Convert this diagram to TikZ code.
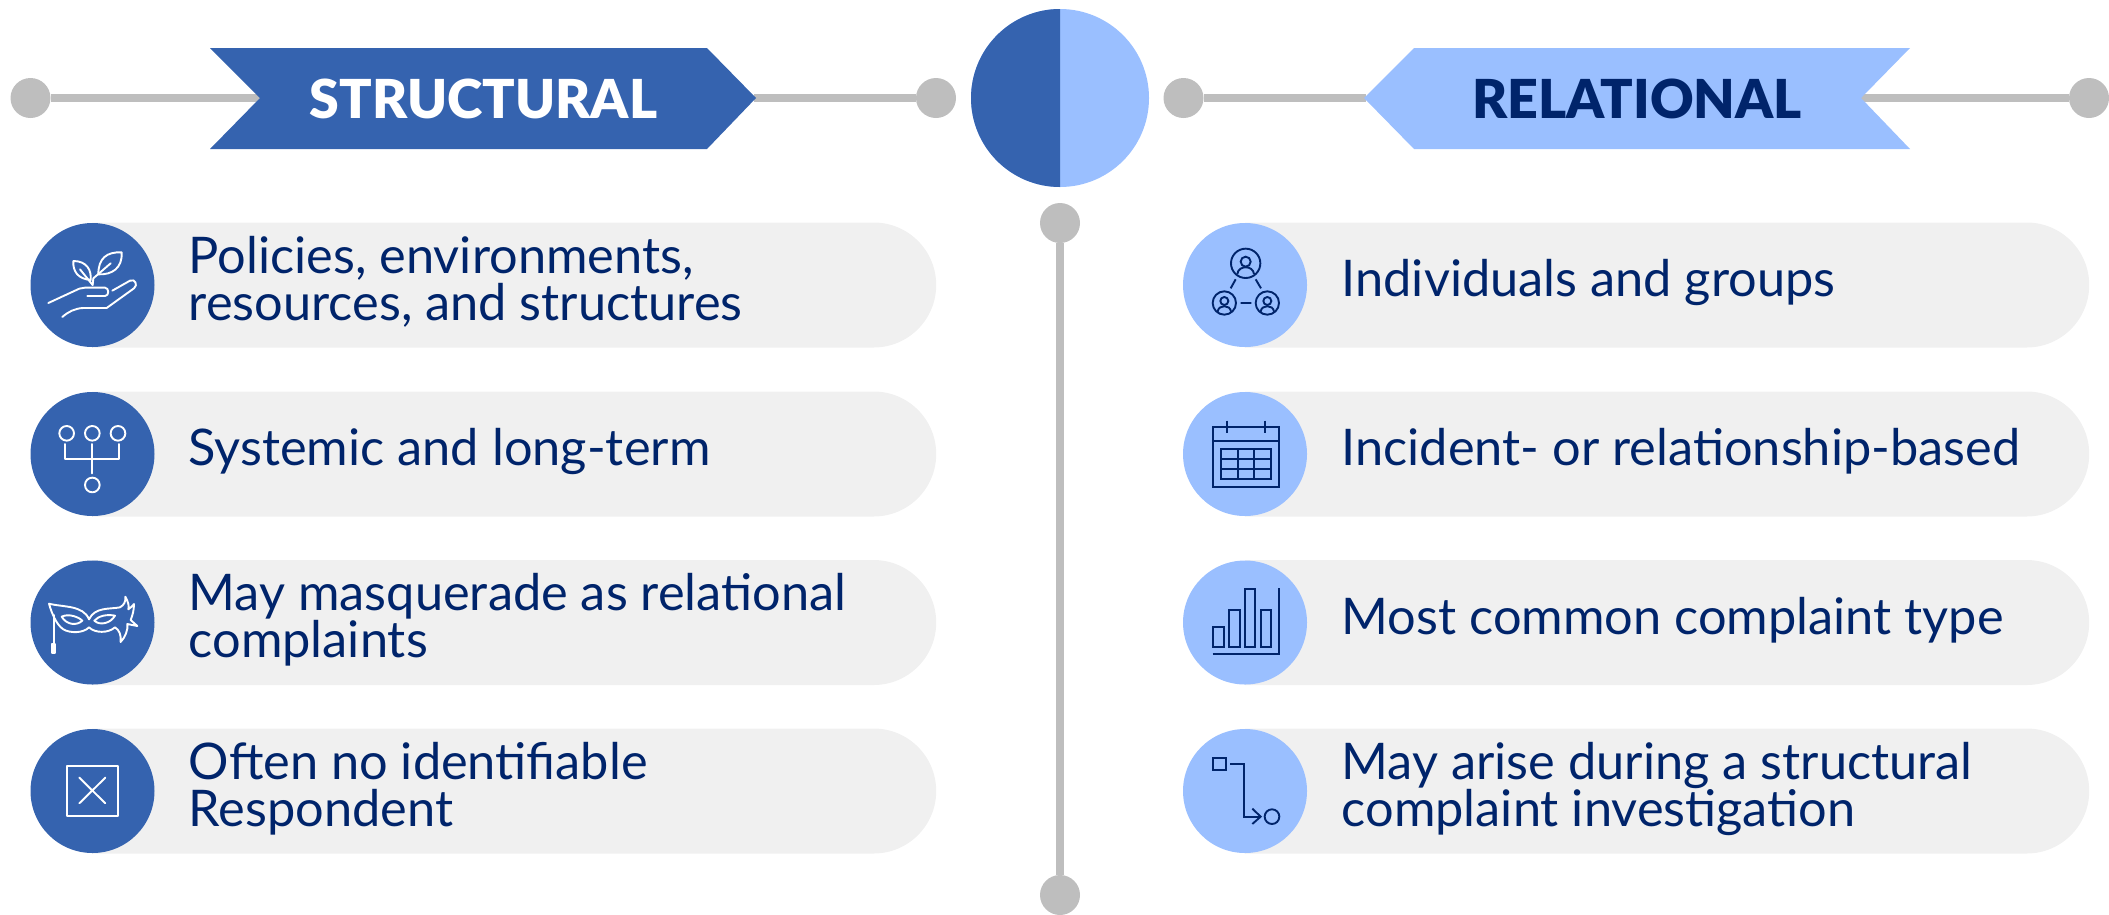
\documentclass[tikz,border=0pt]{standalone}
\usepackage{fontspec}
\usetikzlibrary{shapes.misc}
\setmainfont{Lato}
\newfontfamily\headfont{Lato Black}
\definecolor{bluedark}{HTML}{3563AF}
\definecolor{bluelight}{HTML}{9ABFFF}
\definecolor{navy}{HTML}{00246B}
\definecolor{railgrey}{HTML}{BEBEBE}
\definecolor{pillgrey}{HTML}{F0F0F0}
\tikzset{
  raildot/.style={circle,fill=railgrey,inner sep=0pt,minimum size=40pt},
  rail/.style={draw=railgrey,line width=8pt},
  pill/.style={rounded rectangle,rounded rectangle left arc=none,fill=pillgrey,inner sep=0pt,minimum height=125pt,anchor=west},
  lefticon/.style={circle,fill=bluedark,inner sep=0pt,minimum size=124pt},
  righticon/.style={circle,fill=bluelight,inner sep=0pt,minimum size=124pt},
  txt/.style={anchor=base west,inner sep=0pt,text=navy,align=left,font=\fontsize{50.5}{47}\selectfont},
  headtxt/.style={inner sep=0pt,anchor=base,font=\headfont\fontsize{53.7}{54}\selectfont},
  iconwhite/.style={draw=white,line width=1.9pt,line join=round,line cap=round},
  icondark/.style={draw=navy,line width=1.9pt,line join=miter},
}
\begin{document}
\begin{tikzpicture}[x=1pt,y=-1pt]
\useasboundingbox (0,0) rectangle (2109,914);
% rails
\node[raildot] (dl1) at (30.5,98) {};
\node[raildot] (dl2) at (936,98) {};
\node[raildot] (dr1) at (1183.5,98) {};
\node[raildot] (dr2) at (2089,98) {};
\node[raildot] (dv1) at (1060,223) {};
\node[raildot] (dv2) at (1060,895) {};
\coordinate (nl1) at (262,98);
\coordinate (nl2) at (754,98);
\coordinate (nr1) at (1366,98);
\coordinate (nr2) at (1861,98);
\draw[rail] (dl1) -- (nl1);
\draw[rail] (nl2) -- (dl2);
\draw[rail] (dr1) -- (nr1);
\draw[rail] (nr2) -- (dr2);
\draw[rail] (dv1) -- (dv2);
% banners
\fill[bluedark] (210,48) -- (707,48) -- (756,98) -- (707,149) -- (210,149) -- (260,98) -- cycle;
\fill[bluelight] (1414,48) -- (1910,48) -- (1861,98) -- (1910,149) -- (1414,149) -- (1364,98) -- cycle;
\node[headtxt,text=white] (hs) at (483.5,118) {STRUCTURAL};
\node[headtxt,text=navy] (hr) at (1637,118) {RELATIONAL};
% centre circle
\node[circle,fill=bluelight,inner sep=0pt,minimum size=178pt] (big) at (1060,98) {};
\begin{scope}
\clip (960,0) rectangle (1060,200);
\fill[bluedark] (1060,98) circle[radius=89];
\end{scope}
% pills
\foreach \n/\c in {1/285,2/454,3/622.5,4/791}{
  \node[pill,minimum width=844pt] (pl\n) at (92,\c) {};
  \node[pill,minimum width=844pt] (pr\n) at (1245,\c) {};
  \node[lefticon] (il\n) at (92.5,\c) {};
  \node[righticon] (ir\n) at (1245,\c) {};
}
% text
\node[txt] (t1) at (188.5,320) {Policies, environments,\\resources, and structures};
\node[txt] (t2) at (188.5,465.5) {Systemic and long-term};
\node[txt] (t3) at (188.5,657.5) {May masquerade as relational\\complaints};
\node[txt] (t4) at (188.5,826) {Often no identifiable\\Respondent};
\node[txt] (t5) at (1341.5,296.5) {Individuals and groups};
\node[txt] (t6) at (1341.5,465.5) {Incident- or relationship-based};
\node[txt] (t7) at (1341.5,634) {Most common complaint type};
\node[txt] (t8) at (1341.5,826) {May arise during a structural\\complaint investigation};
% icons left
\begin{scope}[shift={(20,210)},x=0.3333pt,y=-0.3333pt]
\draw[iconwhite] (85,279) -- (178,236) .. controls (185,233) .. (195,233) -- (255,233) .. controls (268,233) and (268,258) .. (255,258) -- (202,258);
\draw[iconwhite] (127,321) .. controls (145,305) and (165,295) .. (190,294) -- (260,294) -- (342,235) .. controls (355,225) and (345,205) .. (330,212) -- (277,242);
\draw[iconwhite] (305,127) .. controls (260,125) and (235,145) .. (235,193) .. controls (275,195) and (308,175) .. (305,127);
\draw[iconwhite] (160,153) .. controls (158,185) and (175,207) .. (212,210) .. controls (215,180) and (200,153) .. (160,153);
\draw[iconwhite] (218,225) -- (220,205) -- (272,160);
\draw[iconwhite] (180,178) -- (218,225);
\draw[iconwhite] (140,670) circle[radius=22] (217,670) circle[radius=22] (294,670) circle[radius=22] (217,825) circle[radius=22];
\draw[iconwhite] (136,702) -- (136,746) -- (298,746) -- (298,702);
\draw[iconwhite] (217,702) -- (217,790);
\end{scope}
\begin{scope}[shift={(20,550)},x=0.3333pt,y=-0.3333pt]
\draw[iconwhite] (102,195) -- (102,283);
\draw[iconwhite,fill=white] (97,283) rectangle (106,310);
\draw[iconwhite] (87,161) .. controls (130,172) and (190,165) .. (207,208) .. controls (225,170) and (270,178) .. (300,172) .. controls (312,165) and (318,155) .. (316,140) .. controls (325,155) and (328,170) .. (325,178) .. controls (333,172) and (338,168) .. (342,162) .. controls (342,180) and (338,195) .. (332,210) -- (352,228) -- (322,222) .. controls (325,240) and (315,262) .. (302,276) .. controls (304,255) and (298,240) .. (285,232) .. controls (265,250) and (225,250) .. (207,232) .. controls (190,250) and (150,250) .. (130,238) .. controls (110,225) and (95,190) .. (87,161) -- cycle;
\draw[iconwhite] (125,200) .. controls (145,190) and (175,200) .. (187,212) .. controls (170,228) and (140,225) .. (125,200) -- cycle;
\draw[iconwhite] (223,212) .. controls (235,198) and (260,192) .. (285,197) .. controls (272,220) and (240,228) .. (223,212) -- cycle;
\draw[iconwhite] (142,648) rectangle (293,797);
\draw[iconwhite] (178,683) -- (256,760) (256,683) -- (178,760);
\end{scope}
% icons right
\begin{scope}[shift={(1175,210)},x=0.3333pt,y=-0.3333pt]
\draw[icondark] (212,160) circle[radius=44] (148,279) circle[radius=35] (277,279) circle[radius=35];
\draw[icondark] (212,155) circle[radius=15] (148,273) circle[radius=12] (277,273) circle[radius=12];
\draw[icondark] (187,192) .. controls (190,165) and (234,165) .. (237,192);
\draw[icondark] (128,305) .. controls (130,283) and (166,283) .. (168,305);
\draw[icondark] (257,305) .. controls (259,283) and (295,283) .. (297,305);
\draw[icondark] (182,208) -- (167,235) (242,208) -- (258,235) (197,279) -- (229,279);
\draw[icondark] (114,651) rectangle (313,830);
\draw[icondark] (114,694) -- (313,694);
\draw[icondark] (156,632) -- (156,668) (270,632) -- (270,668);
\draw[icondark] (138,717) rectangle (289,807);
\draw[icondark] (189,717) -- (189,807) (238,717) -- (238,807) (138,747) -- (289,747) (138,777) -- (289,777);
\end{scope}
\begin{scope}[shift={(1175,550)},x=0.3333pt,y=-0.3333pt]
\draw[icondark] (114,230) rectangle (146,290) (162,179) rectangle (194,290) (209,117) rectangle (241,290) (257,179) rectangle (289,290);
\draw[icondark] (113,313) -- (312,313) -- (312,115);
\draw[icondark] (114,623) rectangle (152,660);
\draw[icondark] (166,641) -- (207,641) -- (207,800) -- (255,800);
\draw[icondark] (232,776) -- (257,800) -- (232,822);
\draw[icondark] (291,800) circle[radius=22];
\end{scope}
\end{tikzpicture}
\end{document}
